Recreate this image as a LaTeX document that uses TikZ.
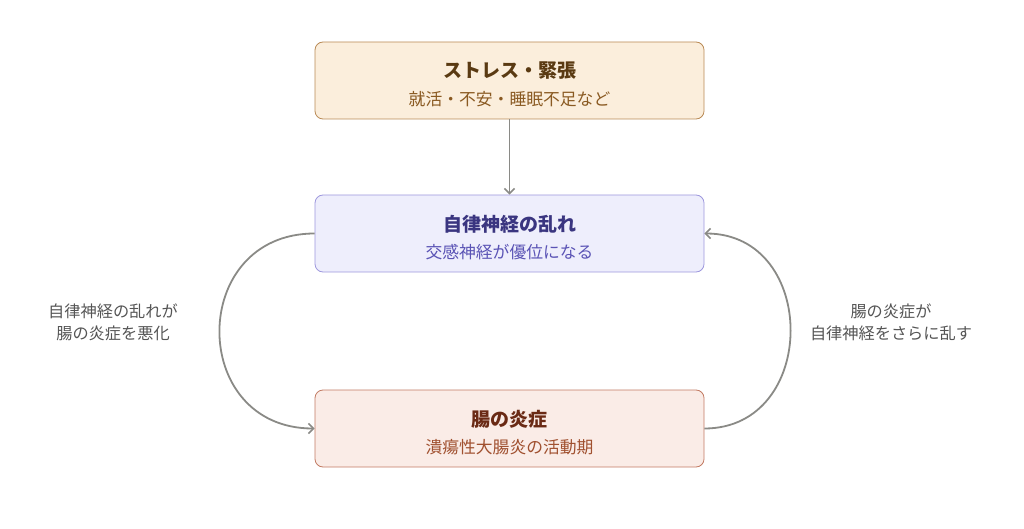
\documentclass[tikz,border=0pt]{standalone}
\usepackage{fontspec}
\setmainfont{Noto Sans CJK JP}
\usetikzlibrary{arrows.meta}
\definecolor{topfill}{HTML}{FBEEDC}
\definecolor{topdraw}{HTML}{B98A55}
\definecolor{toptitle}{HTML}{5A3A12}
\definecolor{topsub}{HTML}{8A5A22}
\definecolor{midfill}{HTML}{EEEEFC}
\definecolor{middraw}{HTML}{9D97DD}
\definecolor{midtitle}{HTML}{3A3580}
\definecolor{midsub}{HTML}{5A53B5}
\definecolor{botfill}{HTML}{FAECE7}
\definecolor{botdraw}{HTML}{C27A62}
\definecolor{bottitle}{HTML}{6A2A15}
\definecolor{botsub}{HTML}{A0502F}
\definecolor{linegray}{HTML}{8A8A86}
\definecolor{labelgray}{HTML}{555555}
\tikzset{
  box/.style={rounded corners=8pt, line width=0.8pt, minimum width=389pt, minimum height=77pt, inner sep=0pt},
  conn/.style={draw=linegray, line width=1.8pt, -{Straight Barb[length=5pt,width=10pt,line width=1.6pt]}},
  lbl/.style={text=labelgray, font=\fontsize{16.2pt}{22pt}\selectfont, align=center},
  ttl/.style={font=\fontsize{19pt}{22pt}\selectfont\bfseries},
  sub/.style={font=\fontsize{16.8pt}{20pt}\selectfont},
}
\begin{document}
\begin{tikzpicture}[x=1pt,y=-1pt]
\useasboundingbox (0,0) rectangle (1024,529);
\node[box, fill=topfill, draw=topdraw] (top) at (509.5,80.5) {};
\node[box, fill=midfill, draw=middraw] (mid) at (509.5,233.5) {};
\node[box, fill=botfill, draw=botdraw] (bot) at (509.5,428.5) {};
\node[ttl, text=toptitle] (t1) at (509.5,71) {ストレス・緊張};
\node[sub, text=topsub] (t2) at (509.5,99) {就活・不安・睡眠不足など};
\node[ttl, text=midtitle] (m1) at (509.5,224) {自律神経の乱れ};
\node[sub, text=midsub] (m2) at (509.5,252) {交感神経が優位になる};
\node[ttl, text=bottitle] (b1) at (509.5,419) {腸の炎症};
\node[sub, text=botsub] (b2) at (509.5,447) {潰瘍性大腸炎の活動期};
\draw[conn] (top.south) -- (mid.north);
\draw[conn] (mid.west) .. controls (188,233.5) and (188,428.5) .. (bot.west);
\draw[conn] (bot.east) .. controls (819,428.5) and (819,233.5) .. (mid.east);
\node[lbl] (l1) at (113,322) {自律神経の乱れが\\腸の炎症を悪化};
\node[lbl] (l2) at (891,322) {腸の炎症が\\自律神経をさらに乱す};
\end{tikzpicture}
\end{document}
